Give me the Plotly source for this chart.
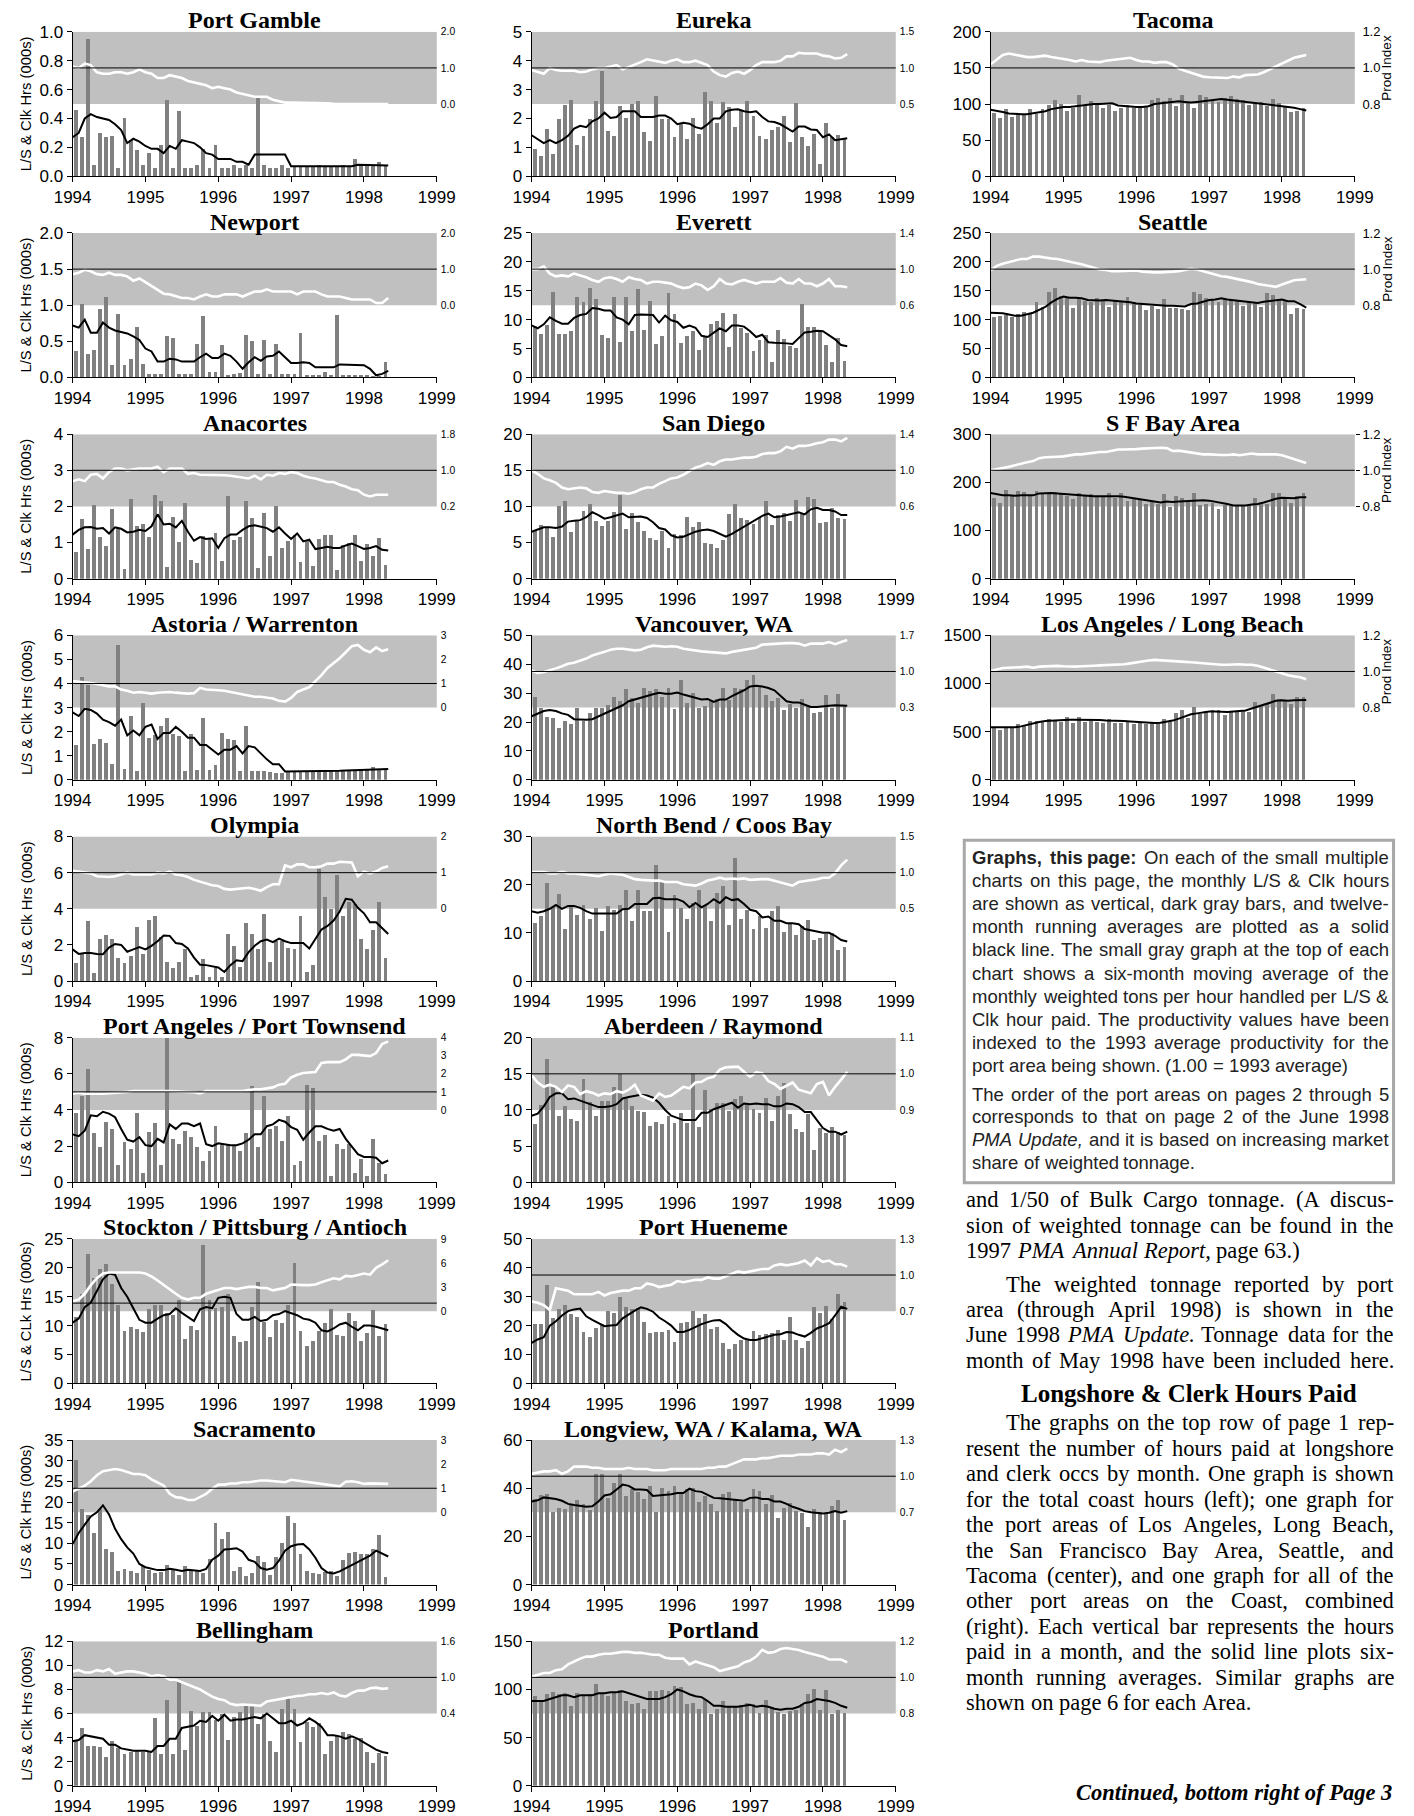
import plotly.graph_objects as go

# ---------------- DATA (monthly, Jan 1994 ...) ----------------
years = [1994, 1995, 1996, 1997, 1998, 1999]

port_gamble_bars = [0.46,0.27,0.95,0.08,0.30,0.27,0.28,0.06,0.40,0.25,0.18,0.08,
 0.16,0.06,0.22,0.53,0.06,0.45,0.06,0.06,0.08,0.19,0.06,0.22,
 0.06,0.06,0.08,0.06,0.08,0.06,0.55,0.08,0.06,0.06,0.08,0.06,
 0.07,0.07,0.07,0.07,0.08,0.07,0.07,0.07,0.08,0.07,0.12,0.07,
 0.08,0.08,0.10,0.07]
port_gamble_avg = [0.27,0.30,0.40,0.43,0.41,0.40,0.39,0.36,0.32,0.23,0.26,0.24,
 0.21,0.19,0.19,0.16,0.21,0.19,0.25,0.24,0.23,0.20,0.16,0.15,
 0.12,0.12,0.12,0.10,0.10,0.08,0.15,0.15,0.15,0.15,0.15,0.15,
 0.07,0.07,0.07,0.07,0.07,0.07,0.07,0.07,0.07,0.07,0.07,0.08,
 0.08,0.08,0.08,0.08,0.075]
port_gamble_prod = [1.04,1.00,1.12,1.08,0.88,0.84,0.84,0.88,0.88,0.84,0.88,0.96,
 0.88,0.84,0.72,0.72,0.80,0.76,0.72,0.64,0.60,0.56,0.52,0.44,
 0.48,0.44,0.40,0.32,0.28,0.24,0.20,0.20,0.20,0.12,0.08,0.04,
 0.04,0.04,0.04,0.03,0.03,0.02,0.02,0.01,0.0,0.0,0.0,0.0,
 0.0,0.0,0.0,0.0,0.0]

newport_bars = [0.37,1.02,0.32,0.38,0.95,1.12,0.17,0.88,0.17,0.25,0.70,0.18,
 0.05,0.05,0.05,0.57,0.54,0.05,0.05,0.05,0.47,0.85,0.07,0.07,
 0.45,0.04,0.05,0.06,0.59,0.50,0.05,0.52,0.05,0.47,0.05,0.05,
 0.05,0.62,0.03,0.03,0.04,0.08,0.04,0.87,0.03,0.04,0.03,0.04,
 0.04,0.02,0.02,0.21]
newport_avg = [0.72,0.69,0.80,0.62,0.62,0.76,0.69,0.65,0.63,0.61,0.57,0.52,
 0.40,0.36,0.22,0.22,0.26,0.25,0.22,0.22,0.22,0.28,0.33,0.27,
 0.27,0.33,0.30,0.22,0.12,0.21,0.28,0.23,0.29,0.30,0.36,0.28,
 0.20,0.20,0.21,0.20,0.14,0.14,0.14,0.14,0.18,0.18,0.18,0.18,
 0.17,0.12,0.03,0.05,0.09]
newport_prod = [0.86,0.90,0.98,0.94,0.86,0.84,0.90,0.84,0.84,0.80,0.68,0.74,
 0.64,0.54,0.44,0.32,0.30,0.24,0.20,0.20,0.16,0.24,0.30,0.24,
 0.24,0.30,0.30,0.30,0.24,0.30,0.38,0.38,0.44,0.38,0.38,0.38,
 0.38,0.30,0.38,0.38,0.38,0.30,0.24,0.24,0.24,0.20,0.16,0.16,
 0.16,0.16,0.06,0.06,0.20]

anacortes_bars = [0.75,1.65,0.83,2.05,1.15,0.90,1.92,1.40,0.27,2.20,1.45,1.50,
 1.15,2.32,2.15,0.33,1.70,1.02,2.10,0.53,0.43,1.18,1.10,1.25,
 0.50,2.30,1.08,1.15,2.15,1.68,0.30,1.83,0.63,2.00,0.85,1.05,
 1.20,0.45,1.05,0.35,1.10,1.20,1.20,0.25,0.93,1.00,1.22,0.50,
 0.97,0.62,1.13,0.37]
anacortes_avg = [1.22,1.35,1.42,1.43,1.38,1.40,1.25,1.42,1.38,1.28,1.30,1.35,
 1.32,1.45,1.78,1.50,1.52,1.42,1.60,1.30,1.05,1.15,1.10,1.12,
 0.85,1.12,1.22,1.22,1.35,1.45,1.48,1.45,1.40,1.30,1.42,1.25,
 1.10,1.25,1.03,1.08,0.82,0.85,0.88,0.85,0.85,0.92,0.97,0.90,
 0.82,0.85,0.90,0.80,0.78]
anacortes_prod = [0.76,0.80,0.76,0.90,0.92,0.82,0.96,1.04,1.04,1.00,1.02,1.04,
 1.04,1.04,1.08,0.96,1.04,1.04,1.04,0.92,0.94,0.90,0.90,0.90,
 0.90,0.89,0.88,0.86,0.84,0.82,0.88,0.80,0.90,0.88,0.94,0.92,
 0.96,0.94,0.88,0.84,0.82,0.78,0.74,0.74,0.68,0.64,0.58,0.56,
 0.46,0.42,0.46,0.46,0.46]

astoria_bars = [1.45,4.25,3.95,1.50,1.70,1.55,0.65,5.60,0.45,2.65,0.35,3.20,
 1.75,1.85,2.25,2.55,1.90,1.80,0.35,1.90,0.40,2.55,0.40,0.62,
 1.95,1.70,1.65,0.35,2.25,0.38,0.35,0.35,0.32,0.30,0.28,0.38,
 0.35,0.35,0.35,0.35,0.35,0.36,0.36,0.38,0.40,0.40,0.40,0.40,
 0.45,0.55,0.42,0.42]
astoria_avg = [2.80,2.65,2.95,2.90,2.75,2.50,2.40,2.25,2.50,1.85,2.05,1.85,
 2.20,2.30,1.70,1.95,1.95,2.20,2.00,1.75,1.75,1.45,1.45,1.25,
 1.05,1.25,1.25,1.40,1.10,1.40,1.35,1.10,0.85,0.65,0.65,0.35,
 0.35,0.35,0.35,0.35,0.36,0.36,0.37,0.38,0.38,0.39,0.40,0.40,
 0.41,0.42,0.43,0.44,0.45]
astoria_prod = [1.10,1.08,1.05,1.02,0.98,0.92,0.88,0.88,0.75,0.70,0.62,0.65,
 0.62,0.58,0.62,0.65,0.65,0.62,0.60,0.58,0.60,0.82,0.75,0.72,
 0.72,0.70,0.65,0.60,0.55,0.50,0.45,0.45,0.40,0.38,0.28,0.25,
 0.40,0.65,0.75,0.85,1.10,1.35,1.65,1.85,2.05,2.30,2.55,2.60,
 2.40,2.30,2.50,2.35,2.42]

olympia_bars = [1.00,1.55,3.35,0.45,2.30,2.55,2.30,1.30,1.00,1.40,3.00,1.50,
 3.40,3.60,2.45,1.05,0.70,1.05,1.80,0.25,0.35,1.20,0.20,0.70,
 0.25,2.60,1.95,0.80,3.20,2.60,1.75,3.70,1.05,2.20,2.20,1.85,
 1.80,3.60,0.50,0.90,6.20,4.65,4.00,5.85,3.60,4.35,4.25,2.35,
 1.80,2.80,4.35,1.30]
olympia_avg = [1.75,1.50,1.55,1.55,1.50,1.48,1.85,2.05,2.00,1.62,1.75,1.88,
 1.75,1.95,2.20,2.52,2.50,2.10,2.05,1.80,1.30,0.90,0.88,0.80,
 0.75,0.50,0.88,1.15,1.10,1.60,1.95,2.20,2.30,2.15,2.35,2.20,
 2.10,2.10,2.10,1.80,2.30,2.85,3.05,3.35,3.85,4.55,4.50,4.05,
 3.75,3.25,3.25,2.95,2.60]
olympia_prod = [1.05,1.03,1.00,0.98,0.90,0.89,0.88,0.90,0.95,1.00,0.95,0.95,
 0.93,0.95,1.00,0.98,1.03,0.95,0.93,0.88,0.80,0.75,0.70,0.65,
 0.63,0.55,0.53,0.55,0.55,0.58,0.55,0.50,0.60,0.68,0.68,1.20,
 1.15,1.23,1.23,1.15,1.15,1.18,1.25,1.25,1.30,1.30,1.28,0.90,
 1.03,0.98,1.03,1.13,1.18]

port_angeles_bars = [3.85,4.80,6.25,2.70,1.95,3.35,2.95,0.95,2.25,1.85,3.85,0.50,
 2.80,3.30,0.95,8.00,2.40,2.10,2.85,2.50,1.95,1.20,1.70,3.10,
 2.10,2.05,2.05,1.70,2.70,5.30,1.95,4.80,2.95,3.10,2.30,3.65,
 0.95,1.20,5.40,5.20,2.30,2.60,0.35,2.10,1.85,2.10,0.50,1.30,
 0.35,2.40,1.05,0.45]
port_angeles_avg = [2.65,2.55,2.85,3.70,3.65,3.90,3.80,3.60,2.95,2.35,2.25,2.50,
 2.05,2.00,2.40,2.20,3.20,2.95,3.25,3.25,3.10,3.25,2.10,2.00,
 2.15,2.10,2.05,2.05,2.15,2.35,2.65,2.65,3.10,3.20,3.45,3.35,
 3.05,2.90,2.35,2.75,3.10,3.10,2.95,2.85,2.95,2.40,1.95,1.55,
 1.40,1.40,1.35,1.05,1.20]
port_angeles_prod = [0.90,0.95,0.90,0.92,0.90,0.90,0.92,0.95,0.98,1.00,1.05,1.05,
 1.05,1.08,1.05,1.05,1.05,1.03,1.02,1.00,0.98,0.92,1.05,1.05,
 1.05,1.05,1.05,1.05,1.05,1.10,1.15,1.15,1.20,1.25,1.40,1.45,
 1.80,1.95,2.05,2.08,2.10,2.60,2.65,2.65,2.65,2.80,3.05,3.05,
 3.00,2.98,3.15,3.65,3.80]

stockton_bars = [11.5,15.4,22.4,18.2,19.8,20.7,17.2,13.5,9.0,9.7,9.4,8.9,
 12.8,13.5,13.5,12.2,11.9,14.4,7.6,9.9,9.2,24.0,14.5,13.0,
 13.2,15.4,8.2,7.2,7.3,13.3,17.6,10.7,8.0,11.0,10.5,13.5,
 20.8,9.0,6.5,7.4,9.0,10.5,12.8,8.4,8.2,12.1,10.8,7.4,
 8.8,12.7,8.2,10.3]
stockton_avg = [10.5,11.2,13.2,14.0,16.0,18.0,19.0,18.8,16.5,15.0,13.0,11.0,
 10.5,10.5,11.2,11.8,12.0,13.0,12.2,11.5,10.8,12.8,13.2,13.0,
 14.8,15.0,14.8,12.0,11.0,11.0,11.5,10.8,11.0,11.8,12.0,12.5,
 12.2,11.8,11.2,11.0,10.5,9.2,9.0,9.5,10.2,10.5,9.8,9.2,
 10.0,10.0,9.8,9.5,9.2]
stockton_prod = [1.22,1.44,2.16,3.24,4.10,4.68,4.82,4.82,4.90,4.90,4.90,4.82,
 4.68,4.32,3.82,3.24,2.66,2.16,1.66,1.44,1.66,1.66,2.16,2.38,
 2.66,2.88,2.88,2.74,2.88,3.02,3.02,2.88,2.88,2.59,2.74,2.88,
 3.31,3.24,3.24,3.24,3.31,3.60,3.82,4.10,3.96,4.39,4.32,4.54,
 4.68,4.54,5.40,5.83,6.34]

sacramento_bars = [30.2,18.3,16.8,12.6,18.2,8.7,7.9,3.3,3.8,3.2,2.8,4.5,
 3.5,2.8,3.0,4.7,3.8,2.4,4.4,3.5,3.3,2.7,6.3,14.8,
 11.0,12.8,3.2,4.3,2.0,2.7,6.8,5.5,2.2,6.6,10.0,16.5,
 14.8,7.5,3.2,2.8,2.5,3.0,3.3,2.0,6.0,7.7,7.8,7.5,
 7.3,8.6,12.0,1.8]
sacramento_avg = [9.8,12.5,14.5,16.5,17.5,19.2,17.0,13.5,11.0,9.0,7.5,5.0,
 4.2,3.8,3.5,3.5,3.8,3.6,3.3,3.6,3.5,3.3,3.8,6.0,
 7.0,8.5,8.6,8.8,8.0,6.0,5.5,4.0,3.6,4.0,5.8,8.2,
 9.3,9.7,9.8,8.5,6.5,4.0,2.9,2.7,3.2,4.0,4.8,5.5,
 6.2,7.0,8.2,7.5,6.8]
sacramento_prod = [0.86,0.98,1.11,1.29,1.54,1.71,1.76,1.80,1.76,1.66,1.59,1.59,
 1.54,1.37,1.25,1.11,0.77,0.63,0.60,0.51,0.51,0.63,0.77,0.98,
 1.15,1.15,1.20,1.20,1.25,1.25,1.29,1.32,1.32,1.29,1.29,1.25,
 1.35,1.32,1.29,1.25,1.22,1.18,1.15,1.11,1.08,1.27,1.29,1.25,
 1.18,1.20,1.20,1.18,1.18]

bellingham_bars = [3.7,4.8,3.3,3.3,3.2,2.4,3.7,3.1,2.6,2.8,2.9,2.8,
 2.8,5.6,2.6,7.1,2.6,8.7,3.0,6.2,5.0,6.1,6.1,5.5,
 6.0,3.8,5.7,6.1,6.6,6.7,5.1,6.0,3.7,2.8,6.4,7.3,
 6.4,3.6,5.3,4.9,5.2,2.6,3.7,4.1,4.5,4.3,3.9,4.0,
 2.8,1.9,2.7,2.5]
bellingham_avg = [3.7,3.8,4.2,4.1,4.0,3.9,3.4,3.4,3.1,3.0,2.9,2.9,
 2.9,2.8,3.3,3.3,3.9,3.9,4.8,4.9,5.0,5.4,5.3,5.8,
 5.4,5.9,5.4,5.5,5.5,5.6,5.7,5.6,6.0,5.6,5.2,5.2,
 5.4,5.0,5.2,5.6,5.3,4.9,4.2,4.2,4.1,3.9,4.1,3.9,
 3.6,3.3,3.0,2.8,2.7]
bellingham_prod = [1.10,1.12,1.08,1.08,1.12,1.10,1.14,1.06,1.08,1.10,1.10,1.08,
 1.06,1.02,1.04,1.02,0.96,0.96,0.92,0.88,0.84,0.80,0.74,0.68,
 0.64,0.62,0.56,0.54,0.55,0.54,0.54,0.53,0.60,0.62,0.64,0.66,
 0.68,0.69,0.70,0.72,0.72,0.74,0.72,0.75,0.70,0.68,0.74,0.78,
 0.78,0.82,0.83,0.81,0.82]

eureka_bars = [0.93,0.70,1.62,0.78,1.98,2.45,2.65,1.10,1.40,1.98,2.60,3.65,
 1.58,1.40,2.42,2.02,2.50,2.62,1.52,1.23,2.78,1.98,1.98,1.35,
 1.85,1.30,2.00,1.48,2.92,2.60,1.85,2.58,2.40,1.70,2.30,2.60,
 2.10,1.40,1.30,1.60,1.70,2.10,1.18,2.55,1.35,1.05,1.45,0.42,
 1.85,1.35,1.42,1.30]
eureka_avg = [1.42,1.28,1.15,1.25,1.15,1.25,1.40,1.65,1.75,1.70,1.90,2.00,
 2.20,2.02,2.05,2.25,2.25,2.25,2.05,2.05,2.05,2.10,2.10,2.00,
 1.80,1.85,1.82,1.70,1.65,1.80,2.00,2.00,2.25,2.30,2.32,2.25,
 2.22,2.25,2.05,1.90,1.88,1.80,1.68,1.55,1.72,1.72,1.62,1.60,
 1.35,1.45,1.25,1.28,1.32]
eureka_prod = [0.97,0.95,0.92,1.00,0.97,0.96,0.96,0.96,0.94,0.95,0.98,1.00,
 1.00,1.02,1.04,0.98,1.01,1.04,1.08,1.12,1.10,1.08,1.07,1.10,
 1.12,1.08,1.08,1.10,1.07,1.04,0.95,0.90,0.88,0.93,0.95,0.92,
 0.97,1.04,1.08,1.08,1.08,1.10,1.16,1.16,1.21,1.20,1.20,1.20,
 1.17,1.16,1.13,1.14,1.19]

everett_bars = [8.9,7.6,9.0,14.8,7.5,7.5,8.1,13.9,13.0,15.4,13.6,7.3,
 6.8,13.9,6.1,14.0,8.0,15.3,8.2,13.2,5.8,7.1,14.6,11.0,
 5.9,7.1,8.1,4.8,7.2,9.2,9.7,11.2,5.2,11.0,8.6,7.7,
 4.5,6.4,7.3,2.6,8.3,6.6,5.4,5.1,12.7,8.8,8.7,7.9,
 5.6,2.6,6.8,2.8]
everett_avg = [9.0,8.5,9.2,10.4,9.8,9.3,9.3,10.3,10.8,11.0,12.0,11.9,
 11.6,11.6,10.4,10.0,9.2,10.8,10.9,10.8,10.8,9.5,10.7,9.9,
 9.6,8.6,9.0,8.6,7.2,7.0,7.8,8.5,8.0,9.0,9.0,8.8,
 8.0,7.0,7.4,6.1,6.0,6.0,5.9,5.8,6.8,7.8,7.9,8.1,
 8.0,7.3,6.6,5.6,5.4]
everett_prod = [1.00,1.00,1.03,0.95,0.92,0.93,0.92,0.95,0.93,0.91,0.88,0.86,
 0.90,0.91,0.89,0.86,0.91,0.89,0.88,0.84,0.86,0.86,0.85,0.84,
 0.81,0.79,0.80,0.84,0.82,0.77,0.81,0.89,0.84,0.83,0.86,0.88,
 0.86,0.84,0.86,0.86,0.86,0.90,0.85,0.84,0.89,0.84,0.84,0.81,
 0.84,0.89,0.81,0.81,0.80]

san_diego_bars = [6.6,7.4,7.2,5.8,10.1,10.7,6.4,8.0,9.4,10.4,8.0,7.3,
 8.0,9.2,11.6,6.9,9.1,7.8,6.6,5.6,5.3,6.6,4.2,6.2,
 6.0,8.5,7.2,7.8,5.0,4.8,4.2,5.4,9.0,10.4,8.4,8.1,
 7.5,8.6,10.8,7.4,8.8,9.1,8.0,10.9,9.0,11.3,11.0,7.7,
 7.8,9.8,8.4,8.3]
san_diego_avg = [6.5,6.8,7.1,7.1,7.0,7.2,7.9,8.0,8.1,8.5,9.2,8.8,
 8.3,8.5,8.7,9.0,8.5,8.6,8.6,8.4,7.8,7.0,6.8,6.0,
 5.7,5.8,6.2,6.5,6.7,6.8,6.6,6.2,5.8,6.2,6.7,7.2,
 7.7,8.2,8.7,9.0,8.5,8.6,8.8,8.9,9.2,8.9,9.6,9.8,
 9.5,9.5,9.3,8.8,8.8]
san_diego_prod = [1.00,0.96,0.91,0.89,0.86,0.81,0.79,0.80,0.81,0.80,0.76,0.75,
 0.77,0.76,0.75,0.75,0.74,0.76,0.79,0.81,0.81,0.85,0.88,0.91,
 0.92,0.95,0.99,1.03,1.05,1.08,1.06,1.10,1.12,1.12,1.13,1.14,
 1.14,1.15,1.18,1.19,1.19,1.21,1.26,1.24,1.27,1.27,1.28,1.30,
 1.31,1.34,1.34,1.32,1.36]

vancouver_bars = [28.8,24.8,21.8,21.3,18.0,20.4,19.3,25.0,20.5,23.0,25.0,25.0,
 26.0,28.8,27.2,31.5,28.3,26.5,31.9,30.8,31.6,28.8,31.8,24.6,
 34.6,26.5,30.0,24.8,25.5,27.7,28.0,31.8,27.8,31.7,31.3,34.5,
 36.2,32.0,29.3,27.3,28.2,24.2,26.2,25.0,28.0,25.5,23.0,23.5,
 29.3,24.8,29.8,25.5]
vancouver_avg = [22.0,23.0,23.8,24.2,23.8,23.0,22.5,21.0,20.8,20.8,21.0,22.0,
 23.0,24.0,24.8,25.8,27.2,27.8,28.5,29.2,29.6,30.1,29.8,29.8,
 30.2,29.5,29.0,28.5,27.8,28.0,27.0,27.8,27.8,29.0,30.0,31.0,
 32.3,32.6,32.3,31.8,31.0,29.0,27.2,26.8,26.8,26.0,25.2,25.2,
 25.5,25.6,25.8,25.8,25.6]
vancouver_prod = [1.02,0.97,0.99,1.02,1.06,1.10,1.15,1.17,1.21,1.25,1.31,1.34,
 1.38,1.42,1.44,1.44,1.43,1.41,1.42,1.47,1.50,1.49,1.48,1.49,
 1.48,1.44,1.42,1.41,1.39,1.38,1.37,1.35,1.35,1.38,1.40,1.42,
 1.43,1.46,1.52,1.53,1.53,1.54,1.55,1.55,1.54,1.50,1.54,1.54,
 1.54,1.57,1.53,1.57,1.61]

north_bend_bars = [12.0,13.4,20.3,15.4,18.1,10.8,15.3,13.8,15.8,12.8,15.2,10.4,
 15.5,14.8,15.8,19.0,12.5,18.8,14.5,14.6,24.0,20.6,10.2,17.8,
 15.2,12.8,16.3,18.9,15.8,12.5,18.3,19.8,11.7,25.5,12.8,14.8,
 10.9,13.6,11.0,14.6,15.5,10.2,11.8,9.5,11.4,12.6,8.6,9.0,
 9.8,10.0,6.4,7.0]
north_bend_avg = [14.5,14.2,14.5,15.0,15.8,15.0,15.6,15.6,15.2,14.5,14.0,14.0,
 14.0,14.0,14.0,14.9,15.0,16.0,16.0,16.0,17.2,17.3,17.0,17.0,
 17.0,16.5,15.3,16.2,15.3,16.0,17.0,16.2,17.4,16.8,17.0,16.0,
 14.8,14.5,13.2,13.4,12.5,12.5,12.0,12.0,11.8,10.8,10.5,10.2,
 10.0,10.0,9.4,8.5,8.2]
north_bend_prod = [1.01,1.01,1.01,0.99,0.99,1.01,0.99,0.99,0.98,0.97,0.96,0.95,
 0.97,0.99,0.98,0.97,0.94,0.91,0.90,0.89,0.89,0.89,0.87,0.87,
 0.87,0.84,0.83,0.82,0.85,0.89,0.91,0.93,0.91,0.92,0.91,0.92,
 0.90,0.91,0.91,0.91,0.89,0.87,0.85,0.82,0.87,0.88,0.89,0.91,
 0.93,0.93,0.99,1.10,1.18]

aberdeen_bars = [8.1,10.7,17.0,13.2,9.2,10.5,8.7,8.5,14.3,11.1,9.2,11.2,
 11.2,13.2,15.0,11.8,10.5,9.8,9.7,7.8,8.3,8.1,9.1,8.2,
 9.6,8.2,15.0,7.7,12.7,10.1,11.0,11.0,9.9,11.5,12.0,11.0,
 10.2,9.6,11.7,8.5,12.0,13.7,9.5,7.4,7.0,9.5,4.4,7.5,
 6.8,7.6,7.0,6.6]
aberdeen_avg = [9.2,9.5,10.5,11.8,12.3,12.3,11.5,11.6,11.3,11.0,10.6,10.4,
 10.4,10.5,10.8,11.6,11.8,11.9,12.1,12.0,11.7,11.0,10.0,9.2,
 8.9,8.6,8.6,8.6,9.6,9.6,10.1,10.4,10.7,11.0,10.3,10.9,
 10.8,10.9,10.8,10.8,10.5,10.5,10.9,10.8,10.4,9.7,9.7,8.6,
 7.5,7.0,7.0,6.6,7.0]
aberdeen_prod = [0.996,0.976,0.964,0.970,0.964,0.950,0.968,0.964,0.944,0.952,0.948,0.940,
 0.946,0.944,0.952,0.948,0.956,0.970,0.940,0.934,0.926,0.946,0.936,0.940,
 0.952,0.964,0.960,0.976,0.978,0.988,0.992,1.012,1.018,1.018,1.020,1.006,
 0.992,1.004,1.002,0.980,0.972,0.958,0.968,0.976,0.956,0.952,0.946,0.972,
 0.978,0.940,0.964,0.984,1.006]

hueneme_bars = [20.5,20.6,34.2,22.5,25.7,27.2,24.1,22.8,17.8,16.1,19.2,20.4,
 25.0,24.3,29.9,26.4,25.8,26.0,21.3,17.5,17.7,17.9,18.5,14.2,
 20.8,21.4,24.9,22.7,24.1,18.7,19.5,14.0,12.0,13.6,15.0,15.0,
 18.0,16.8,17.2,17.5,18.4,15.1,23.0,15.0,12.3,14.6,26.4,24.5,
 26.8,22.3,30.9,28.2]
hueneme_avg = [14.0,15.2,16.0,20.0,21.5,23.5,25.0,25.6,25.9,23.2,22.0,21.0,
 19.8,20.0,20.2,22.5,24.0,25.2,26.3,25.8,24.8,22.8,21.5,20.0,
 17.8,17.8,18.5,19.5,20.5,21.2,21.8,21.9,20.5,18.5,16.8,15.5,
 15.0,15.0,15.5,16.2,16.8,17.0,17.8,17.6,16.8,16.2,17.5,19.0,
 19.8,20.8,23.5,26.5,25.8]
hueneme_prod = [0.78,0.77,0.75,0.71,0.89,0.88,0.87,0.84,0.84,0.84,0.84,0.86,
 0.83,0.85,0.86,0.87,0.87,0.89,0.89,0.93,0.92,0.90,0.91,0.92,
 0.95,0.94,0.95,0.96,0.96,0.98,0.97,0.97,0.99,1.01,1.03,1.02,
 1.03,1.04,1.05,1.05,1.08,1.09,1.08,1.09,1.10,1.12,1.08,1.14,
 1.11,1.12,1.09,1.09,1.07]

longview_bars = [35.4,37.2,37.8,30.0,31.8,31.4,33.5,35.0,33.5,31.0,45.8,46.0,
 36.0,42.0,45.8,36.8,39.6,38.5,35.5,40.8,30.3,40.2,38.8,40.8,
 37.8,39.5,40.0,34.3,36.8,33.3,30.5,37.5,38.3,35.4,34.2,31.2,
 39.5,38.8,33.5,37.3,27.8,32.0,33.8,30.5,29.8,24.0,31.2,30.2,
 29.5,32.5,35.0,26.8]
longview_avg = [34.5,35.0,36.2,36.0,35.5,34.8,33.5,33.0,32.8,32.3,32.5,34.5,
 37.0,37.5,39.5,41.5,41.0,39.5,39.5,39.3,36.8,37.0,37.0,37.5,
 38.0,38.0,39.8,38.8,38.5,37.3,36.0,35.8,35.5,35.5,35.0,34.8,
 36.0,36.2,35.5,35.5,34.5,34.5,33.5,32.3,31.5,30.5,30.0,29.8,
 29.5,29.8,30.5,29.8,30.5]
longview_prod = [1.02,1.03,1.04,1.04,1.05,1.02,1.04,1.08,1.08,1.08,1.07,1.07,
 1.06,1.06,1.06,1.06,1.07,1.06,1.06,1.06,1.05,1.05,1.05,1.06,
 1.06,1.06,1.06,1.06,1.06,1.07,1.07,1.08,1.08,1.10,1.12,1.14,
 1.14,1.14,1.15,1.15,1.16,1.17,1.17,1.17,1.18,1.18,1.18,1.19,
 1.19,1.18,1.22,1.20,1.23]

portland_bars = [93,88,95,97,95,96,83,96,93,95,106,96,
 93,96,99,88,85,86,80,98,98,99,98,104,
 102,85,86,80,90,75,80,88,82,82,84,86,
 85,76,89,82,77,75,78,79,85,95,100,79,
 99,74,79,76]
portland_avg = [88,88,88,90,92,94,94,92,94,94,94,96,
 96,97,97,98,96,94,92,90,90,90,92,95,
 100,98,95,93,92,88,83,83,82,82,82,83,
 84,82,83,82,80,79,80,80,82,86,87,90,
 89,88,86,83,81]
portland_prod = [1.003,1.013,1.024,1.024,1.040,1.045,1.072,1.088,1.104,1.115,1.115,1.125,
 1.131,1.131,1.136,1.141,1.141,1.136,1.136,1.131,1.125,1.125,1.109,1.104,
 1.104,1.104,1.072,1.088,1.077,1.067,1.056,1.035,1.045,1.051,1.061,1.083,
 1.093,1.115,1.152,1.136,1.141,1.157,1.163,1.157,1.152,1.141,1.131,1.125,
 1.115,1.099,1.099,1.099,1.083]

tacoma_bars = [88,80,93,82,86,86,93,86,93,98,105,100,
 91,94,113,98,104,101,95,98,91,94,99,95,
 95,96,105,109,104,109,97,113,103,95,113,110,
 105,103,109,111,107,106,99,101,103,97,107,101,
 97,89,91,94]
tacoma_avg = [92,91,89,87,86,86,86,87,88,90,93,95,
 96,96,97,99,100,100,100,100,101,98,97,97,
 96,96,97,100,101,102,103,104,103,102,103,104,
 104,105,107,106,105,104,103,102,101,100,100,99,
 98,97,95,93,91]
tacoma_prod = [1.020,1.048,1.072,1.080,1.072,1.064,1.060,1.060,1.064,1.068,1.060,1.056,
 1.052,1.044,1.036,1.044,1.036,1.036,1.032,1.040,1.044,1.048,1.052,1.056,
 1.044,1.036,1.036,1.028,1.032,1.032,1.020,0.996,0.984,0.972,0.960,0.952,
 0.948,0.948,0.944,0.944,0.952,0.948,0.960,0.964,0.964,0.976,0.992,1.008,
 1.028,1.044,1.056,1.064,1.072]

seattle_bars = [104,107,108,104,110,114,112,130,122,148,155,141,
 138,121,135,133,130,138,132,122,133,132,139,130,
 126,116,124,118,136,120,121,119,117,148,144,137,
 134,131,135,134,132,124,131,131,122,146,143,135,
 132,110,120,118]
seattle_avg = [112,112,111,109,107,107,109,112,117,122,130,136,
 140,138,138,137,134,133,133,134,133,133,132,130,
 128,127,127,125,124,124,124,124,123,127,128,131,
 134,135,137,135,134,132,131,131,129,131,132,134,
 135,132,132,127,121]
seattle_prod = [0.992,1.018,1.030,1.040,1.050,1.056,1.056,1.069,1.069,1.062,1.059,1.056,
 1.050,1.043,1.034,1.027,1.018,1.008,0.998,0.995,0.989,0.989,0.989,0.989,
 0.992,0.986,0.982,0.982,0.982,0.982,0.986,0.989,0.995,1.002,0.998,0.989,
 0.979,0.970,0.960,0.957,0.950,0.944,0.938,0.928,0.918,0.912,0.906,0.902,
 0.915,0.928,0.938,0.941,0.944]

sf_bay_bars = [167,157,184,172,182,180,173,181,176,175,179,175,
 171,166,178,172,175,172,172,177,168,177,162,165,
 165,156,159,154,175,148,171,168,163,178,153,155,
 158,145,153,150,152,152,152,168,155,155,178,178,
 165,157,171,178]
sf_bay_avg = [178,176,173,173,172,173,173,173,177,178,178,177,
 176,175,173,172,172,171,171,171,172,171,170,168,
 167,164,162,160,158,160,159,160,161,162,163,163,
 162,160,157,155,152,152,152,154,155,158,162,166,
 168,167,167,169,169]
sf_bay_prod = [1.000,1.008,1.013,1.019,1.029,1.037,1.045,1.051,1.067,1.072,1.072,1.075,
 1.077,1.083,1.088,1.088,1.093,1.099,1.101,1.101,1.107,1.115,1.115,1.115,
 1.117,1.120,1.123,1.123,1.125,1.123,1.107,1.109,1.104,1.099,1.093,1.088,
 1.088,1.085,1.085,1.085,1.088,1.083,1.088,1.093,1.088,1.088,1.088,1.088,
 1.083,1.072,1.061,1.051,1.040]

la_lb_bars = [545,520,540,545,575,570,610,610,605,630,610,605,
 655,595,650,605,610,600,590,630,590,595,600,575,
 595,580,600,585,630,605,690,720,645,755,680,710,
 725,730,670,705,700,710,700,805,780,800,895,840,
 820,785,865,855]
la_lb_avg = [545,545,545,540,545,555,570,590,600,610,615,620,
 625,625,625,625,625,620,620,615,615,612,610,605,
 602,595,590,590,592,600,615,635,660,680,690,700,
 710,710,705,705,710,715,720,740,760,780,805,820,
 825,820,825,830,830]
la_lb_prod = [1.003,1.013,1.019,1.021,1.021,1.024,1.027,1.021,1.027,1.029,1.029,1.031,
 1.029,1.027,1.027,1.029,1.029,1.032,1.034,1.035,1.037,1.040,1.040,1.045,
 1.051,1.059,1.061,1.064,1.061,1.059,1.056,1.056,1.053,1.051,1.048,1.045,
 1.043,1.037,1.037,1.037,1.040,1.040,1.037,1.037,1.032,1.021,1.011,1.000,
 0.987,0.979,0.973,0.968,0.957]

# panel specs: title, col, row, data, left-axis max & step & decimals, right ticks & decimals
panels = [
 ("Port Gamble", 0, 0, port_gamble_bars, port_gamble_avg, port_gamble_prod, 1.0, 0.2, 1, [0.0, 1.0, 2.0], 1),
 ("Newport", 0, 1, newport_bars, newport_avg, newport_prod, 2.0, 0.5, 1, [0.0, 1.0, 2.0], 1),
 ("Anacortes", 0, 2, anacortes_bars, anacortes_avg, anacortes_prod, 4, 1, 0, [0.2, 1.0, 1.8], 1),
 ("Astoria / Warrenton", 0, 3, astoria_bars, astoria_avg, astoria_prod, 6, 1, 0, [0, 1, 2, 3], 0),
 ("Olympia", 0, 4, olympia_bars, olympia_avg, olympia_prod, 8, 2, 0, [0, 1, 2], 0),
 ("Port Angeles / Port Townsend", 0, 5, port_angeles_bars, port_angeles_avg, port_angeles_prod, 8, 2, 0, [0, 1, 2, 3, 4], 0),
 ("Stockton / Pittsburg / Antioch", 0, 6, stockton_bars, stockton_avg, stockton_prod, 25, 5, 0, [0, 3, 6, 9], 0),
 ("Sacramento", 0, 7, sacramento_bars, sacramento_avg, sacramento_prod, 35, 5, 0, [0, 1, 2, 3], 0),
 ("Bellingham", 0, 8, bellingham_bars, bellingham_avg, bellingham_prod, 12, 2, 0, [0.4, 1.0, 1.6], 1),
 ("Eureka", 1, 0, eureka_bars, eureka_avg, eureka_prod, 5, 1, 0, [0.5, 1.0, 1.5], 1),
 ("Everett", 1, 1, everett_bars, everett_avg, everett_prod, 25, 5, 0, [0.6, 1.0, 1.4], 1),
 ("San Diego", 1, 2, san_diego_bars, san_diego_avg, san_diego_prod, 20, 5, 0, [0.6, 1.0, 1.4], 1),
 ("Vancouver, WA", 1, 3, vancouver_bars, vancouver_avg, vancouver_prod, 50, 10, 0, [0.3, 1.0, 1.7], 1),
 ("North Bend / Coos Bay", 1, 4, north_bend_bars, north_bend_avg, north_bend_prod, 30, 10, 0, [0.5, 1.0, 1.5], 1),
 ("Aberdeen / Raymond", 1, 5, aberdeen_bars, aberdeen_avg, aberdeen_prod, 20, 5, 0, [0.9, 1.0, 1.1], 1),
 ("Port Hueneme", 1, 6, hueneme_bars, hueneme_avg, hueneme_prod, 50, 10, 0, [0.7, 1.0, 1.3], 1),
 ("Longview, WA / Kalama, WA", 1, 7, longview_bars, longview_avg, longview_prod, 60, 20, 0, [0.7, 1.0, 1.3], 1),
 ("Portland", 1, 8, portland_bars, portland_avg, portland_prod, 150, 50, 0, [0.8, 1.0, 1.2], 1),
 ("Tacoma", 2, 0, tacoma_bars, tacoma_avg, tacoma_prod, 200, 50, 0, [0.8, 1.0, 1.2], 1),
 ("Seattle", 2, 1, seattle_bars, seattle_avg, seattle_prod, 250, 50, 0, [0.8, 1.0, 1.2], 1),
 ("S F Bay Area", 2, 2, sf_bay_bars, sf_bay_avg, sf_bay_prod, 300, 100, 0, [0.8, 1.0, 1.2], 1),
 ("Los Angeles / Long Beach", 2, 3, la_lb_bars, la_lb_avg, la_lb_prod, 1500, 500, 0, [0.8, 1.0, 1.2], 1),
]

box_lines = [
 "[Graphs,] [this] [page:] On each of the small multiple",
 "charts on this page, the monthly L/S & Clk hours",
 "are shown as vertical, dark gray bars, and twelve-",
 "month running averages are plotted as a solid",
 "black line. The small gray graph at the top of each",
 "chart shows a six-month moving average of the",
 "monthly weighted tons per hour handled per L/S &",
 "Clk hour paid. The productivity values have been",
 "indexed to the 1993 average productivity for the",
 "port area being shown. (1.00 = 1993 average)",
 "The order of the port areas on pages 2 through 5",
 "corresponds to that on page 2 of the June 1998",
 "{PMA} {Update,} and it is based on increasing market",
 "share of weighted tonnage.",
]
box_justify = [1,1,1,1,1,1,1,1,1,0,1,1,1,0]

body_lines = [
 ("and 1/50 of Bulk Cargo tonnage. (A discus-", 1, 0, 1037),
 ("sion of weighted tonnage can be found in the", 1, 0, 1059),
 ("1997 {PMA} {Annual} {Report,} page 63.)", 0, 0, 1081),
 ("The weighted tonnage reported by port", 1, 1, 1110),
 ("area (through April 1998) is shown in the", 1, 0, 1132),
 ("June 1998 {PMA} {Update.} Tonnage data for the", 1, 0, 1154),
 ("month of May 1998 have been included here.", 1, 0, 1176),
 ("The graphs on the top row of page 1 rep-", 1, 1, 1230),
 ("resent the number of hours paid at longshore", 1, 0, 1252),
 ("and clerk occs by month. One graph is shown", 1, 0, 1274),
 ("for the total coast hours (left); one graph for", 1, 0, 1296),
 ("the port areas of Los Angeles, Long Beach,", 1, 0, 1318),
 ("the San Francisco Bay Area, Seattle, and", 1, 0, 1340),
 ("Tacoma (center), and one graph for all of the", 1, 0, 1362),
 ("other port areas on the Coast, combined", 1, 0, 1384),
 ("(right). Each vertical bar represents the hours", 1, 0, 1406),
 ("paid in a month, and the solid line plots six-", 1, 0, 1428),
 ("month running averages. Similar graphs are", 1, 0, 1450),
 ("shown on page 6 for each Area.", 0, 0, 1472),
]

# ---------------- LAYOUT ----------------
W, H = 1414, 1816
S = 1816 / 1568.0
COL_X = [71.8, 531.6, 991.4]
PLOT_W = 364.8
ROW_TOP0 = 31.3
ROW_STEP = 201.5
PLOT_H = 144.7
SANS = "Liberation Sans, Arial, sans-serif"
SERIF = "Liberation Serif, Times New Roman, serif"

# compensation for the photographing inset (target page px -> figure px)
AX, BX, AY, BY = 18.1, 0.9748, 8.45, 0.990


def X(t):
    return (t - AX) / BX


def Y(t):
    return (t - AY) / BY


def fx(px):
    return px / W


def fy(py):
    return 1 - py / H


fig = go.Figure()
lay = {}
ann = []
shp = []

for k, (title, col, row, bars, avg, prod, ymax, ystep, ydec, rt, rdec) in enumerate(panels):
    xi, yl, yr = k + 1, 2 * k + 1, 2 * k + 2
    xn = "x" if xi == 1 else f"x{xi}"
    yln = "y" if yl == 1 else f"y{yl}"
    yrn = f"y{yr}"
    x0 = X(COL_X[col])
    x1 = X(COL_X[col] + PLOT_W)
    top = Y(ROW_TOP0 + ROW_STEP * row)
    bot = Y(ROW_TOP0 + ROW_STEP * row + PLOT_H)

    bx = [1994 + (i + 0.55) / 12 for i in range(len(bars))]
    lx = [1994 + i / 12 for i in range(len(avg))]
    px_ = [1994 + i / 12 for i in range(len(prod))]
    fig.add_trace(go.Bar(x=bx, y=bars, width=0.64 / 12, marker=dict(color="#808080", line=dict(width=0)),
                         xaxis=xn, yaxis=yln, showlegend=False, hoverinfo="skip"))
    fig.add_trace(go.Scatter(x=lx, y=avg, mode="lines", line=dict(color="black", width=2),
                             xaxis=xn, yaxis=yln, showlegend=False, hoverinfo="skip"))
    fig.add_trace(go.Scatter(x=px_, y=prod, mode="lines", line=dict(color="white", width=2.6),
                             xaxis=xn, yaxis=yrn, showlegend=False, hoverinfo="skip"))

    lay["xaxis" if xi == 1 else f"xaxis{xi}"] = dict(
        domain=[fx(x0), fx(x1)], anchor=yln, range=[1994, 1999],
        tickvals=years, ticktext=[str(v) for v in years],
        ticks="outside", ticklen=5, tickwidth=1, tickcolor="black",
        showline=True, linecolor="black", linewidth=1,
        showgrid=False, zeroline=False, fixedrange=True,
        tickfont=dict(family=SANS, size=17, color="black"))
    nt = int(round(ymax / ystep))
    tv = [ystep * i for i in range(nt + 1)]
    fmt = "{:.%df}" % ydec
    lay["yaxis" if yl == 1 else f"yaxis{yl}"] = dict(
        domain=[fy(bot), fy(top)], anchor=xn, range=[0, ymax],
        tickvals=tv, ticktext=[fmt.format(v) for v in tv],
        ticks="outside", ticklen=5, tickwidth=1, tickcolor="black",
        showline=True, linecolor="black", linewidth=1,
        showgrid=False, zeroline=False, fixedrange=True,
        tickfont=dict(family=SANS, size=17, color="black"))
    lo, hi = rt[0], rt[-1]
    rfmt = "{:.%df}" % rdec
    big = (col == 2)
    dash = (title == "S F Bay Area")
    lay[f"yaxis{yr}"] = dict(
        overlaying=yln, side="right", anchor=xn, range=[lo - (hi - lo), hi],
        tickvals=rt, ticktext=[rfmt.format(v) for v in rt],
        ticks="outside", ticklen=4 if big else 1, tickwidth=1,
        tickcolor="black" if dash else "rgba(0,0,0,0)",
        showline=False, showgrid=False, zeroline=False, fixedrange=True,
        tickfont=dict(family=SANS, size=13 if big else 10.3, color="black"))

    shp.append(dict(type="rect", xref=f"{xn} domain", yref=yln, x0=0, x1=1, y0=ymax / 2, y1=ymax,
                    fillcolor="#c0c0c0", line=dict(width=0), layer="below"))
    shp.append(dict(type="line", xref=f"{xn} domain", yref=yrn, x0=0, x1=1, y0=1.0, y1=1.0,
                    line=dict(color="black", width=1), layer="above"))

    ann.append(dict(text=f"<b>{title}</b>", x=fx((x0 + x1) / 2),
                    y=fy(Y(ROW_TOP0 + ROW_STEP * row - 11.5)), xref="paper", yref="paper",
                    showarrow=False, xanchor="center", yanchor="middle",
                    font=dict(family=SERIF, size=24, color="black")))
    if col == 0:
        lab = "L/S &amp; CLk Hrs (000s)" if row == 6 else "L/S &amp; Clk Hrs (000s)"
        ann.append(dict(text=lab, x=fx(max(X(18.5), 7.5)), y=fy((top + bot) / 2), xref="paper", yref="paper",
                        showarrow=False, textangle=-90, xanchor="center", yanchor="middle",
                        font=dict(family=SANS, size=14.8, color="black")))
    if col == 2:
        ann.append(dict(text="Prod Index", x=fx(min(X(1399), 1405.5)), y=fy(top + (bot - top) / 4),
                        xref="paper", yref="paper",
                        showarrow=False, textangle=-90, xanchor="center", yanchor="middle",
                        font=dict(family=SANS, size=13.5, color="black")))

# ---- text metrics for justification ----
ARIAL = {' ':278,'&':667,'(':333,')':333,',':278,'-':333,'.':278,'/':278,':':278,';':278,'=':584,
 'A':667,'B':667,'C':722,'D':722,'E':667,'F':611,'G':778,'H':722,'I':278,'J':500,'K':667,'L':556,'M':833,
 'N':722,'O':778,'P':667,'Q':778,'R':722,'S':667,'T':611,'U':722,'V':667,'W':944,'X':667,'Y':667,'Z':611,
 'a':556,'b':556,'c':500,'d':556,'e':556,'f':278,'g':556,'h':556,'i':222,'j':222,'k':500,'l':222,'m':833,
 'n':556,'o':556,'p':556,'q':556,'r':333,'s':500,'t':278,'u':556,'v':500,'w':722,'x':500,'y':500,'z':500}
for d in "0123456789":
    ARIAL[d] = 556
TIMES = {' ':250,'&':778,'(':333,')':333,',':250,'-':333,'.':250,'/':278,':':278,';':278,
 'A':722,'B':667,'C':667,'D':722,'E':611,'F':556,'G':722,'H':722,'I':333,'J':389,'K':722,'L':611,'M':889,
 'N':722,'O':722,'P':556,'Q':722,'R':667,'S':556,'T':611,'U':722,'V':722,'W':944,'X':722,'Y':722,'Z':611,
 'a':444,'b':500,'c':444,'d':500,'e':444,'f':333,'g':500,'h':500,'i':278,'j':278,'k':500,'l':278,'m':778,
 'n':500,'o':500,'p':500,'q':500,'r':333,'s':389,'t':278,'u':500,'v':500,'w':722,'x':500,'y':500,'z':444}
for d in "0123456789":
    TIMES[d] = 500
FUDGE = 1.03


def word_w(w, table, size):
    bold = "[" in w
    raw = w.replace("{", "").replace("}", "").replace("[", "").replace("]", "")
    v = sum(table.get(c, 500) for c in raw) * size / 1000.0 * FUDGE
    return v * (1.08 if bold else 1.0)


def word_markup(w):
    w = w.replace("&", "&amp;")
    return w.replace("{", "<i>").replace("}", "</i>").replace("[", "<b>").replace("]", "</b>")


def place_line(text, xl, xr, ypx, table, size, family, color, justify):
    words = text.split(" ")
    ws = [word_w(w, table, size) for w in words]
    if justify and len(words) > 1:
        gap = (xr - xl - sum(ws)) / (len(words) - 1)
    else:
        gap = table[" "] * size / 1000.0
    pos = xl
    for i, w in enumerate(words):
        last = justify and i == len(words) - 1 and len(words) > 1
        ann.append(dict(text=word_markup(w), x=fx(xr if last else pos), y=fy(ypx), xref="paper", yref="paper",
                        showarrow=False, xanchor="right" if last else "left", yanchor="middle",
                        borderpad=0, borderwidth=0, font=dict(family=family, size=size, color=color)))
        pos += ws[i] + gap


# text box
shp.append(dict(type="rect", xref="paper", yref="paper", x0=fx(X(965)), x1=fx(1412.5),
                y0=fy(Y(1184)), y1=fy(Y(841)),
                line=dict(color="#a8a8a8", width=3), fillcolor="rgba(0,0,0,0)", layer="above"))
for i, (t, j) in enumerate(zip(box_lines, box_justify)):
    ypx = (858 + 23.2 * i) if i < 10 else (1095.5 + 22.6 * (i - 10))
    place_line(t, X(973), min(X(1407), 1407.5), Y(ypx), ARIAL, 18.5, SANS, "#222222", bool(j))

for t, j, ind, ys in body_lines:
    place_line(t, X(1007) if ind else X(967), min(X(1413), 1412.5), Y(ys * S), TIMES, 22.5, SERIF,
               "black", bool(j))

ann.append(dict(text="<b>Longshore &amp; Clerk Hours Paid</b>", x=fx(X(1190)), y=fy(Y(1205 * S)),
                xref="paper", yref="paper", showarrow=False, xanchor="center", yanchor="middle",
                font=dict(family=SERIF, size=25, color="black")))
ann.append(dict(text="<b><i>Continued, bottom right of Page 3</i></b>", x=fx(1412.5),
                y=fy(min(Y(1555 * S), 1804.0)),
                xref="paper", yref="paper", showarrow=False, xanchor="right", yanchor="middle",
                font=dict(family=SERIF, size=22.5, color="black")))

fig.update_layout(**lay)
fig.update_layout(width=W, height=H, autosize=False, margin=dict(l=0, r=0, t=0, b=0),
                  paper_bgcolor="white", plot_bgcolor="white", showlegend=False,
                  hovermode=False, annotations=ann, shapes=shp, bargap=0)
fig.write_html("out.html", config={"displayModeBar": False, "staticPlot": True},
               post_script="document.body.style.margin='0px';document.body.style.padding='0px';"
                           "document.documentElement.style.overflow='hidden';document.body.style.overflow='hidden';")
